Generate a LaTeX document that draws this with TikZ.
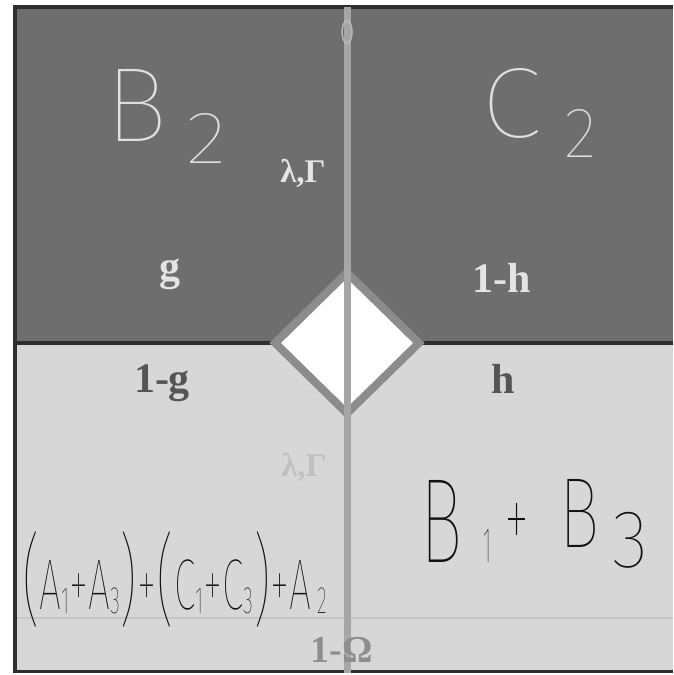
\documentclass[tikz,border=0pt]{standalone}
\usepackage{fontspec}
\setmainfont{Liberation Serif}
\newfontfamily\hand{Fira Sans Thin}
\usetikzlibrary{shapes.geometric}
\definecolor{topgray}{HTML}{6E6E6E}
\definecolor{botgray}{HTML}{D7D7D7}
\definecolor{edgec}{HTML}{2E2E2E}
\definecolor{vlinec}{HTML}{A6A6A6}
\definecolor{diab}{HTML}{8C8C8C}
\definecolor{lightlab}{HTML}{E4E4E4}
\definecolor{darklab}{HTML}{555555}
\definecolor{fadelab}{HTML}{C0C0C0}
\definecolor{omegalab}{HTML}{8E8E8E}
\definecolor{chalk}{HTML}{E0E0E0}
\definecolor{ink}{HTML}{111111}
\newcommand{\hsub}[1]{{\fontsize{38}{38}\selectfont\raisebox{-0.25ex}{#1}}}
\newcommand{\hpar}[1]{{\fontsize{100}{100}\selectfont\raisebox{-0.05em}{#1}}}
\begin{document}
\begin{tikzpicture}[x=1pt,y=-1pt,
  lab/.style={font=\fontsize{42}{42}\selectfont\bfseries, inner sep=0pt, anchor=base},
  greek/.style={font=\fontsize{33}{33}\selectfont\bfseries, inner sep=0pt, anchor=base},
  hw/.style={inner sep=0pt, font=\hand}]
\useasboundingbox (0,0) rectangle (673,675);
\fill[white] (0,0) rectangle (673,675);
% panels
\fill[topgray] (15,7) rectangle (673,343);
\fill[botgray] (15,343) rectangle (673,671);
\draw[fadelab!80!botgray, line width=1.2pt] (15,618) -- (673,618);
% border lines
\draw[edgec, line width=4pt] (13,7) -- (673,7);
\draw[edgec, line width=4pt] (15,5) -- (15,673);
\draw[edgec, line width=4pt] (15,343) -- (673,343);
\draw[edgec, line width=3pt] (13,671.5) -- (673,671.5);
% diamond
\node[diamond, draw=diab, fill=white, line width=8pt, minimum width=147pt, minimum height=144pt, inner sep=0pt] (dia) at (347,343) {};
% vertical line
\coordinate (vtop) at (347,7);
\coordinate (vbot) at (347,673);
\draw[vlinec, line width=7pt] (vtop) -- (vbot);
\draw[vlinec!80!white, line width=1.5pt] (347,32) ellipse (5pt and 11pt);
% labels
\node[greek, text=lightlab] (lgtop) at (303,182) {λ,Γ};
\node[lab, text=lightlab] (g) at (170,280) {g};
\node[lab, text=lightlab] (oh) at (502,292) {1-h};
\node[lab, text=darklab] (og) at (162,392) {1-g};
\node[lab, text=darklab] (h) at (503,393) {h};
\node[greek, text=fadelab] (lgbot) at (304,476) {λ,Γ};
\node[lab, font=\fontsize{38}{38}\selectfont\bfseries, text=omegalab] (om) at (342,662) {1-Ω};
% handwriting top
\node[hw, text=chalk] (b2B) at (137,105) {\resizebox*{62pt}{72pt}{B}};
\node[hw, text=chalk] (b2s) at (207,138) {\resizebox*{40pt}{50pt}{2}};
\node[hw, text=chalk] (c2C) at (512,103) {\resizebox*{60pt}{70pt}{C}};
\node[hw, text=chalk] (c2s) at (581,133) {\resizebox*{32pt}{48pt}{2}};
% handwriting bottom right
\node[hw, text=ink] (b1) at (442,521) {\resizebox*{42pt}{82pt}{B}};
\node[hw, text=ink] (one) at (487,546) {\resizebox*{8pt}{33pt}{1}};
\node[hw, text=ink] (plus) at (517,527) {\resizebox*{25pt}{48pt}{+}};
\node[hw, text=ink] (b3) at (580,513) {\resizebox*{40pt}{68pt}{B}};
\node[hw, text=ink] (three) at (630,540) {\resizebox*{36pt}{56pt}{3}};
% handwriting bottom left
\node[hw, text=ink, anchor=base west] (expr) at (22,609) {\resizebox{305pt}{\height}{\fontsize{72}{72}\selectfont\hpar{(}A\hsub{1}+A\hsub{3}\hpar{)}+\hpar{(}C\hsub{1}+C\hsub{3}\hpar{)}+A\,\hsub{2}}};
\end{tikzpicture}
\end{document}
